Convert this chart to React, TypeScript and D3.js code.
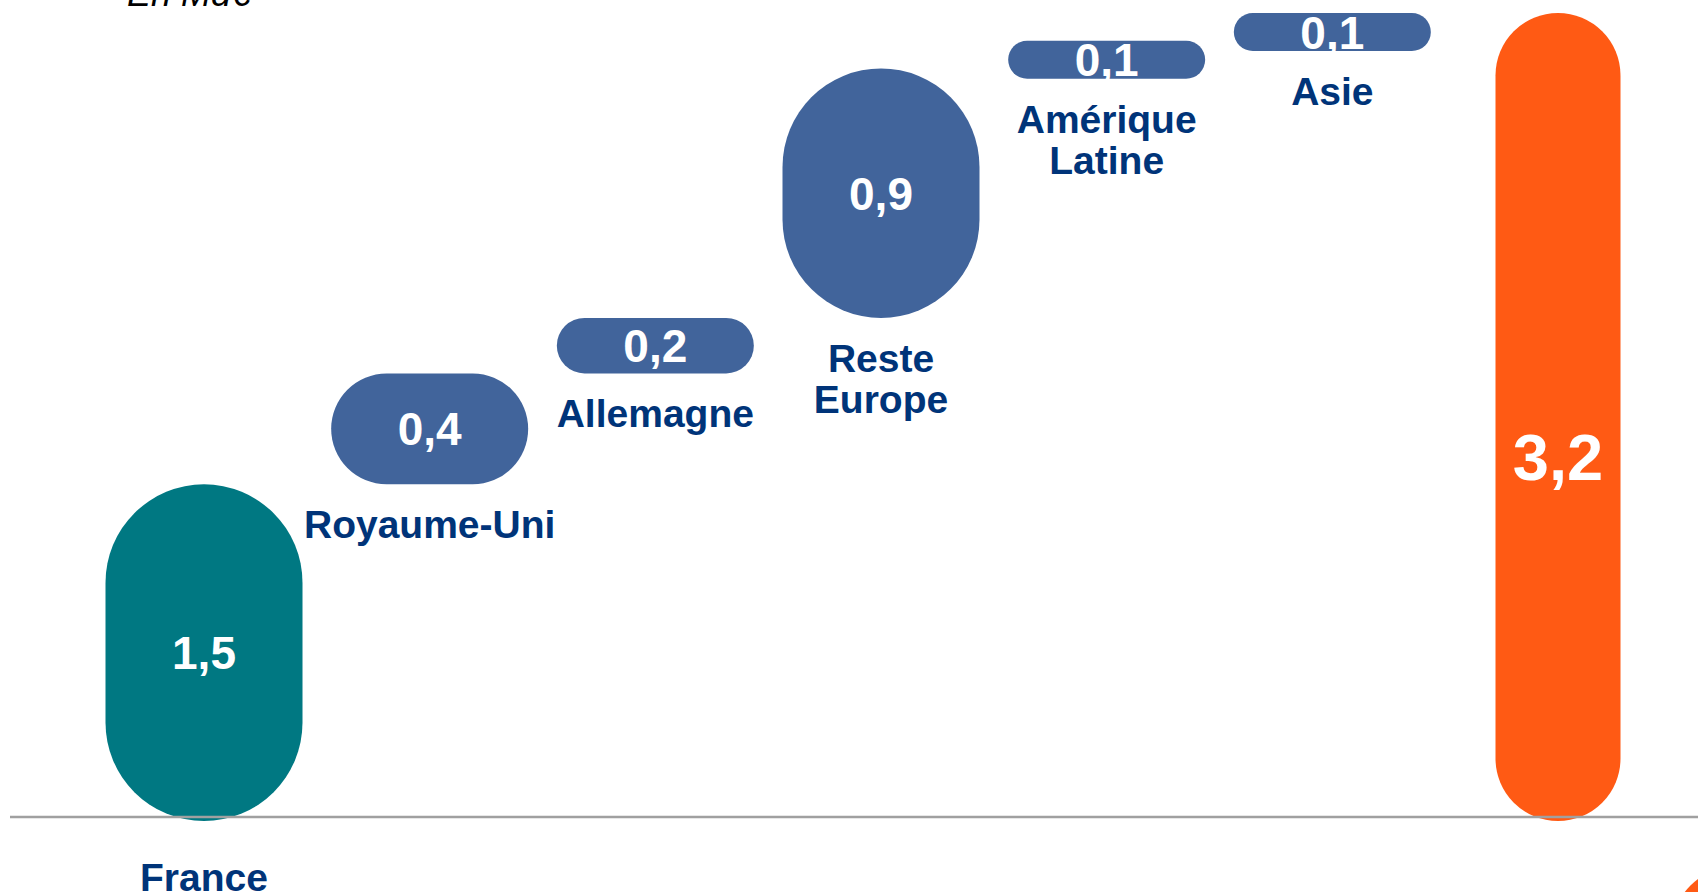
import React from 'react';
import * as d3 from 'd3';

// ---- data ----
const categories = ['France', 'Royaume-Uni', 'Allemagne', 'Reste Europe', 'Amérique Latine', 'Asie'];
const categoryLines = [['France'], ['Royaume-Uni'], ['Allemagne'], ['Reste', 'Europe'], ['Amérique', 'Latine'], ['Asie']];
const values = [1.5, 0.4, 0.2, 0.9, 0.1, 0.1];
const valueLabels = ['1,5', '0,4', '0,2', '0,9', '0,1', '0,1'];
const totalKey = 'Total';
const totalValue = 3.2;
const totalLabel = '3,2';
const unitLabel = 'En Md€';

// ---- layout / style ----
const W = 1698;
const H = 892;
const AXIS_Y = 817;
const TOP_Y = 13;
const AXIS_BREAK = 0.3; // value at which the (broken) baseline sits
const PILL_W = 197;
const TOTAL_W = 125;
const MIN_PILL_H = 38;
const FONT = '"Liberation Sans", Arial, Helvetica, sans-serif';
const COLORS = {
  first: '#007882',
  step: '#41649B',
  total: '#FF5A14',
  label: '#003479',
  axis: '#A0A0A0',
};

export default function App() {
  const x = d3
    .scalePoint<string>()
    .domain([...categories, totalKey])
    .range([204, 1558]);
  const y = d3.scaleLinear().domain([AXIS_BREAK, totalValue]).range([AXIS_Y, TOP_Y]).clamp(true);

  const cum = d3.cumsum(values);
  const bars = categories.map((c, i) => {
    const start = i === 0 ? 0 : cum[i - 1];
    const end = cum[i];
    const top = y(end);
    let bottom = start === 0 ? AXIS_Y + 4 : y(start);
    if (bottom - top < MIN_PILL_H) bottom = top + MIN_PILL_H;
    return {
      key: c,
      cx: x(c) as number,
      top,
      bottom,
      w: PILL_W,
      fill: i === 0 ? COLORS.first : COLORS.step,
      label: valueLabels[i],
      lines: categoryLines[i],
      first: i === 0,
    };
  });

  const totalTop = y(totalValue);
  const totalBottom = AXIS_Y + 4;
  const totalCx = x(totalKey) as number;

  const pill = (cx: number, top: number, bottom: number, w: number) => {
    const h = bottom - top;
    const r = Math.min(w, h) / 2;
    return { x: cx - w / 2, y: top, width: w, height: h, rx: r, ry: r };
  };

  const valueFs = 46;
  const totalFs = 65;
  const catFs = 39;

  return (
    <svg
      width={W}
      height={H}
      style={{ position: 'absolute', left: 0, top: 0, background: '#fff' }}
      fontFamily={FONT}
    >
      <text x={127} y={6} fontSize={36} fontStyle="italic" fill="#000">
        {unitLabel}
      </text>

      {bars.map((b) => (
        <g key={b.key}>
          <rect {...pill(b.cx, b.top, b.bottom, b.w)} fill={b.fill} />
          <text
            x={b.cx}
            y={(b.top + b.bottom) / 2 + valueFs * 0.36}
            textAnchor="middle"
            fontSize={valueFs}
            fontWeight="bold"
            fill="#fff"
          >
            {b.label}
          </text>
          {b.lines.map((ln, j) => (
            <text
              key={j}
              x={b.cx}
              y={(b.first ? AXIS_Y + 74 : b.bottom + 54) + j * 41}
              textAnchor="middle"
              fontSize={catFs}
              fontWeight="bold"
              fill={COLORS.label}
            >
              {ln}
            </text>
          ))}
        </g>
      ))}

      <rect {...pill(totalCx, totalTop, totalBottom, TOTAL_W)} fill={COLORS.total} />
      <text
        x={totalCx}
        y={y(totalValue / 2) + totalFs * 0.36}
        textAnchor="middle"
        fontSize={totalFs}
        fontWeight="bold"
        fill="#fff"
      >
        {totalLabel}
      </text>

      <line x1={10} x2={W} y1={AXIS_Y} y2={AXIS_Y} stroke={COLORS.axis} strokeWidth={2.5} />

      <circle cx={1740} cy={935} r={70} fill={COLORS.total} />
    </svg>
  );
}
